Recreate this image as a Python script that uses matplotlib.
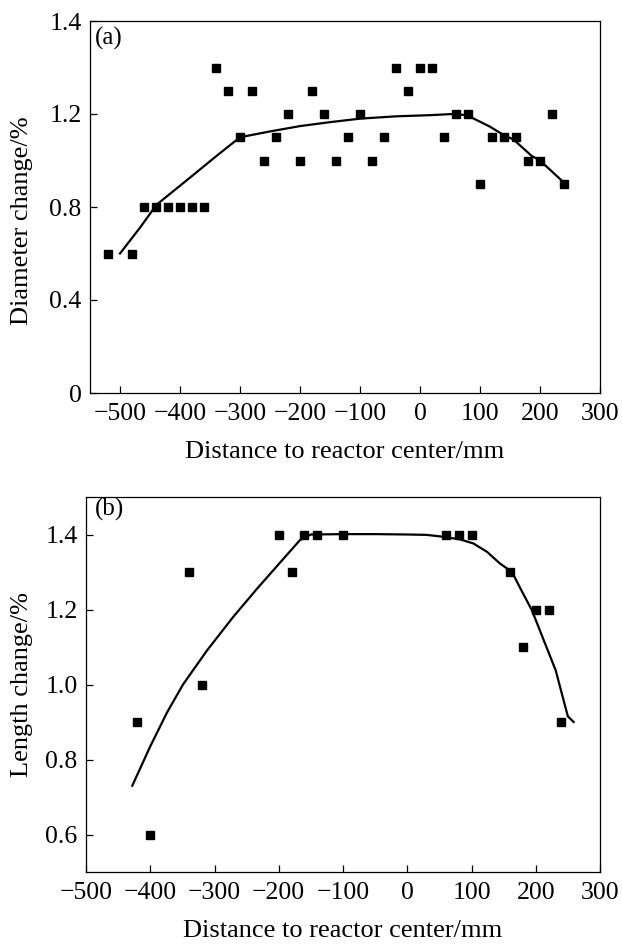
import matplotlib
matplotlib.use("Agg")
import matplotlib.pyplot as plt

plt.rcParams['font.family'] = ['Liberation Serif', 'DejaVu Serif']

# ---- panel (a): diameter change ----
dia_x = [-520, -480, -460, -440, -420, -400, -380, -360, -340, -320, -300, -280,
         -260, -240, -220, -200, -180, -160, -140, -120, -100, -80, -60, -40,
         -20, 0, 20, 40, 60, 80, 100, 120, 140, 160, 180, 200, 220, 240]
dia_y = [0.6, 0.6, 0.8, 0.8, 0.8, 0.8, 0.8, 0.8, 1.4, 1.3, 1.1, 1.3,
         1.0, 1.1, 1.2, 1.0, 1.3, 1.2, 1.0, 1.1, 1.2, 1.0, 1.1, 1.4,
         1.3, 1.4, 1.4, 1.1, 1.2, 1.2, 0.9, 1.1, 1.1, 1.1, 1.0, 1.0, 1.2, 0.9]
dia_fit_x = [-500, -467, -439, -383, -339, -300, -250, -200, -150, -100, -40,
             17, 55, 78, 117, 139, 156, 186, 200, 242]
dia_fit_y = [0.60, 0.71, 0.81, 0.927, 1.02, 1.10, 1.125, 1.148, 1.165, 1.18, 1.19,
             1.195, 1.2, 1.195, 1.145, 1.11, 1.09, 1.02, 1.0, 0.9]
dia_yticks = [0, 0.4, 0.8, 1.2, 1.6]
dia_yticklabels = ["0", "0.4", "0.8", "1.2", "1.4"]
dia_xticks = [-500, -400, -300, -200, -100, 0, 100, 200, 300]

# ---- panel (b): length change ----
len_x = [-420, -400, -340, -320, -200, -180, -160, -140, -100, 60, 80, 100,
         160, 180, 200, 220, 240]
len_y = [0.9, 0.6, 1.3, 1.0, 1.4, 1.3, 1.4, 1.4, 1.4, 1.4, 1.4, 1.4,
         1.3, 1.1, 1.2, 1.2, 0.9]
len_fit_x = [-428, -400, -374, -349, -312, -271, -234, -198, -167, -150, -100,
             -50, 0, 30, 56, 82, 103, 124, 144, 163, 178, 194, 212, 231, 243,
             250, 259]
len_fit_y = [0.73, 0.835, 0.925, 1.0, 1.09, 1.18, 1.255, 1.325, 1.385, 1.40,
             1.401, 1.401, 1.40, 1.399, 1.394, 1.387, 1.376, 1.354, 1.323, 1.30,
             1.25, 1.198, 1.12, 1.038, 0.96, 0.915, 0.9]
len_yticks = [0.6, 0.8, 1.0, 1.2, 1.4]
len_yticklabels = ["0.6", "0.8", "1.0", "1.2", "1.4"]
len_xticks = [-500, -400, -300, -200, -100, 0, 100, 200, 300]

xlabel = "Distance to reactor center/mm"

fig = plt.figure(figsize=(6.22, 9.44), dpi=100)
ax1 = fig.add_axes([90/622, 1-393/944, 510/622, 372/944])
ax2 = fig.add_axes([86/622, 1-872/944, 514/622, 375/944])

TICK_FS = 18.5
LABEL_FS = 19

def style(ax):
    for s in ax.spines.values():
        s.set_linewidth(0.9)
        s.set_color('black')
    ax.tick_params(direction='in', length=5, width=0.9, top=False, right=False,
                   labelsize=TICK_FS, pad=6)
    ax.tick_params(axis='x', pad=7)

# panel a
ax1.plot(dia_fit_x, dia_fit_y, color='black', lw=1.6, zorder=2)
ax1.plot(dia_x, dia_y, 's', color='black', ms=5.2, zorder=3)
ax1.set_xlim(-550, 300)
ax1.set_ylim(0, 1.6)
ax1.set_xticks(dia_xticks)
ax1.set_xticklabels([str(v).replace('-', '\u2212') for v in dia_xticks])
ax1.set_yticks(dia_yticks)
ax1.set_yticklabels(dia_yticklabels)
ax1.set_xlabel(xlabel, fontsize=LABEL_FS)
ax1.set_ylabel("Diameter change/%", fontsize=LABEL_FS)
ax1.xaxis.set_label_coords(0.5, -0.158)
ax1.xaxis.label.set_va('center')
ax1.yaxis.set_label_coords(-0.134, 0.462)
ax1.yaxis.label.set_va('center')
ax1.text(0.01, 0.985, "(a)", transform=ax1.transAxes, ha='left', va='top', fontsize=18)
style(ax1)

# panel b
ax2.plot(len_fit_x, len_fit_y, color='black', lw=1.6, zorder=2)
ax2.plot(len_x, len_y, 's', color='black', ms=5.4, zorder=3)
ax2.set_xlim(-500, 300)
ax2.set_ylim(0.5, 1.5)
ax2.set_xticks(len_xticks)
ax2.set_xticklabels([str(v).replace('-', '\u2212') for v in len_xticks])
ax2.set_yticks(len_yticks)
ax2.set_yticklabels(len_yticklabels)
ax2.set_xlabel(xlabel, fontsize=LABEL_FS)
ax2.set_ylabel("Length change/%", fontsize=LABEL_FS)
ax2.xaxis.set_label_coords(0.5, -0.157)
ax2.xaxis.label.set_va('center')
ax2.yaxis.set_label_coords(-0.125, 0.5)
ax2.yaxis.label.set_va('center')
ax2.text(0.017, 0.998, "(b)", transform=ax2.transAxes, ha='left', va='top', fontsize=18)
style(ax2)

fig.savefig("out.png", dpi=100)
